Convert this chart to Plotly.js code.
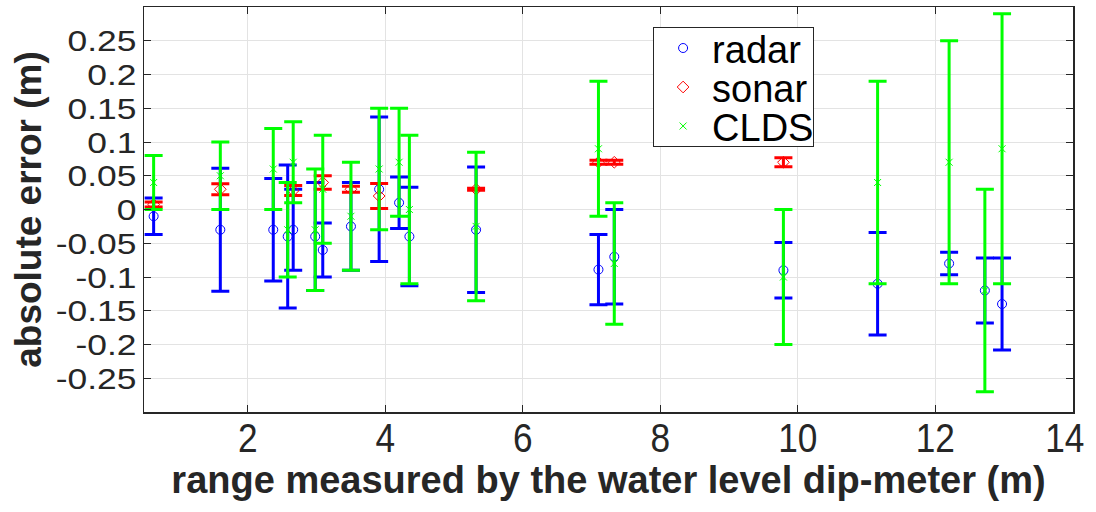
<!DOCTYPE html>
<html>
<head>
<meta charset="utf-8">
<script src="https://cdn.plot.ly/plotly-3.0.1.min.js"></script>
<style>
  html, body { margin: 0; padding: 0; background: #ffffff; }
  #chart { width: 1096px; height: 512px; }
</style>
</head>
<body>
<div id="chart"></div>
<script>
// Range read by the dip-meter for each measurement (m)
const rangeX = [0.63, 1.6, 2.37, 2.58, 2.66, 2.98, 3.09, 3.5, 3.91, 4.2, 4.35, 5.32, 7.1, 7.33, 9.79, 11.16, 12.2, 12.72, 12.97];

// Radar: mean absolute error and its spread (m)
const radarErr = [-0.01, -0.03, -0.03, -0.04, -0.03, -0.04, -0.06, -0.025, 0.03, 0.01, -0.04, -0.03, -0.089, -0.07, -0.09, -0.11, -0.08, -0.12, -0.14];
const radarSpread = [0.027, 0.091, 0.076, 0.106, 0.06, 0.08, 0.04, 0.065, 0.107, 0.038, 0.073, 0.093, 0.052, 0.07, 0.041, 0.076, 0.0165, 0.048, 0.068];

// Sonar: only the shorter ranges
const sonarX = [0.63, 1.6, 2.66, 3.09, 3.5, 3.91, 5.32, 7.1, 7.33, 9.79];
const sonarErr = [0.0075, 0.03, 0.028, 0.04, 0.03, 0.02, 0.03, 0.07, 0.07, 0.07];
const sonarSpread = [0.0037, 0.0082, 0.0074, 0.01, 0.0045, 0.0185, 0.0015, 0.003, 0.003, 0.0065];

// CLDS
const cldsErr = [0.04, 0.05, 0.06, -0.03, 0.07, -0.03, 0.03, -0.01, 0.06, 0.07, 0.0, -0.025, 0.09, -0.08, -0.1, 0.04, 0.07, -0.12, 0.09];
const cldsSpread = [0.04, 0.05, 0.06, 0.07, 0.06, 0.09, 0.08, 0.08, 0.09, 0.08, 0.11, 0.11, 0.1, 0.09, 0.1, 0.15, 0.18, 0.15, 0.2];

// Axis ticks
const xTickVals = [2, 4, 6, 8, 10, 12, 14];
const xTickText = ['2', '4', '6', '8', '10', '12', '14'];
const yTickVals = [-0.25, -0.2, -0.15, -0.1, -0.05, 0, 0.05, 0.1, 0.15, 0.2, 0.25];
const yTickText = ['-0.25', '-0.2', '-0.15', '-0.1', '-0.05', '0', '0.05', '0.1', '0.15', '0.2', '0.25'];

const BLUE = '#0000ff', RED = '#ff0000', GREEN = '#00ff00';
const AXIS = '#262626';
const SANS = 'Arial, Liberation Sans, sans-serif';

function bars(arr, color) {
  return { type: 'data', array: arr, visible: true, color: color, thickness: 3, width: 9 };
}

const traces = [
  {
    name: 'radar', type: 'scatter', mode: 'markers',
    x: rangeX, y: radarErr, error_y: bars(radarSpread, BLUE),
    marker: { symbol: 'circle-open', size: 9, color: BLUE, line: { width: 1 } }
  },
  {
    name: 'sonar', type: 'scatter', mode: 'markers',
    x: sonarX, y: sonarErr, error_y: bars(sonarSpread, RED),
    marker: { symbol: 'diamond-open', size: 9, color: RED, line: { width: 1 } }
  },
  {
    name: 'CLDS', type: 'scatter', mode: 'markers',
    x: rangeX, y: cldsErr, error_y: bars(cldsSpread, GREEN),
    marker: { symbol: 'x-thin-open', size: 7, color: GREEN, line: { width: 1, color: GREEN } }
  }
];

const layout = {
  width: 1096, height: 512,
  margin: { l: 144, r: 23, t: 7, b: 100, pad: 0 },
  paper_bgcolor: '#ffffff', plot_bgcolor: '#ffffff',
  showlegend: true,
  legend: {
    x: 0.548, y: 0.9506, xanchor: 'left', yanchor: 'top',
    bgcolor: '#ffffff', bordercolor: AXIS, borderwidth: 1,
    font: { family: SANS, size: 28, color: '#000000' },
    itemwidth: 48, tracegroupgap: 0
  },
  xaxis: {
    range: [0.49, 14.002], tickmode: 'array', tickvals: xTickVals, ticktext: xTickText,
    showgrid: true, gridcolor: '#e3e3e3', gridwidth: 1, zeroline: false,
    showline: true, linecolor: AXIS, linewidth: 1.5, mirror: 'ticks',
    ticks: 'inside', ticklen: 7, tickwidth: 1, tickcolor: AXIS,
    ticklabelstandoff: -10, ticklabeloverflow: 'allow',
    tickfont: { family: SANS, size: 40, color: AXIS },
    title: {
      text: 'range measured by the water level dip-meter (m)', standoff: 6,
      font: { family: SANS, size: 38, color: AXIS, weight: 'bold' }
    }
  },
  yaxis: {
    range: [-0.3, 0.3], tickmode: 'array', tickvals: yTickVals, ticktext: yTickText,
    showgrid: true, gridcolor: '#e3e3e3', gridwidth: 1, zeroline: false,
    showline: true, linecolor: AXIS, linewidth: 1.5, mirror: 'ticks',
    ticks: 'inside', ticklen: 7, tickwidth: 1, tickcolor: AXIS,
    tickfont: { family: SANS, size: 30, color: AXIS },
    title: {
      text: 'absolute error (m)', standoff: 15,
      font: { family: SANS, size: 37, color: AXIS, weight: 'bold' }
    }
  }
};

Plotly.newPlot('chart', traces, layout, { displayModeBar: false, staticPlot: true }).then(function (gd) {
  // Narrow the x tick numerals so they keep their height but take less width
  const xTexts = gd.querySelectorAll('.xtick text');
  xTexts.forEach(function (t) {
    const w = t.getComputedTextLength();
    t.setAttribute('textLength', (w * 0.88).toFixed(1));
    t.setAttribute('lengthAdjust', 'spacingAndGlyphs');
  });
  // Keep the last label (at the right frame edge) inside the page
  if (xTexts.length) {
    const last = xTexts[xTexts.length - 1];
    last.setAttribute('x', (parseFloat(last.getAttribute('x') || 0) - 8).toFixed(1));
  }
  // Slightly wider y tick numerals
  gd.querySelectorAll('.ytick text').forEach(function (t) {
    const w = t.getComputedTextLength();
    t.setAttribute('textLength', (w * 1.18).toFixed(1));
    t.setAttribute('lengthAdjust', 'spacingAndGlyphs');
  });
  // Compact legend: larger labels on tighter rows
  const LEG_FS = 38, LEG_W = 160, LEG_H = 119, ROW0 = 21, ROW = 39;
  gd.querySelectorAll('.legendtext').forEach(function (t) {
    t.style.fontSize = LEG_FS + 'px';
    t.setAttribute('y', (LEG_FS * 0.39).toFixed(2));
  });
  gd.querySelectorAll('.legend .traces').forEach(function (g, i) {
    const tr = g.getAttribute('transform') || 'translate(0,0)';
    const m = /translate\(\s*([-\d.e]+)[ ,]+([-\d.e]+)\s*\)/.exec(tr);
    const x = m ? parseFloat(m[1]) : 0;
    g.setAttribute('transform', 'translate(' + x + ',' + (ROW0 + ROW * i) + ')');
  });
  gd.querySelectorAll('.legend rect.bg').forEach(function (r) {
    r.setAttribute('width', LEG_W);
    r.setAttribute('height', LEG_H);
  });
  document.querySelectorAll('clipPath[id*="legend"] rect').forEach(function (r) {
    r.setAttribute('width', LEG_W);
    r.setAttribute('height', LEG_H);
  });
});
</script>
</body>
</html>
